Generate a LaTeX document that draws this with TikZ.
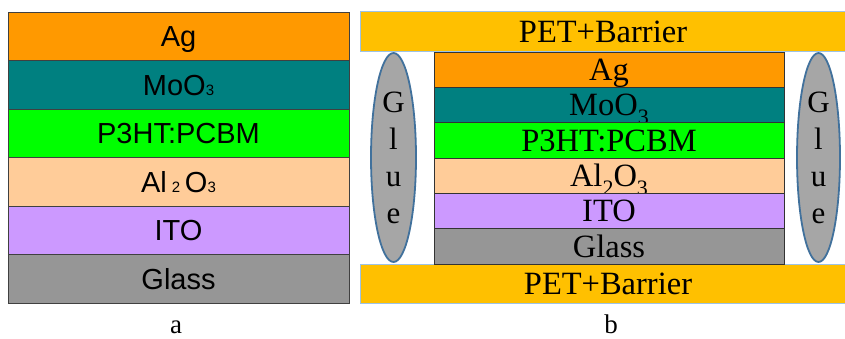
\documentclass[tikz,border=0pt]{standalone}
\usepackage{fontspec}
\setmainfont{Liberation Serif}
\newfontfamily\arialf{Liberation Sans}
\usetikzlibrary{shapes.geometric}
\definecolor{agc}{HTML}{FF9900}
\definecolor{moc}{HTML}{008080}
\definecolor{p3c}{HTML}{00FF00}
\definecolor{alc}{HTML}{FFCC99}
\definecolor{itoc}{HTML}{CC99FF}
\definecolor{glc}{HTML}{969696}
\definecolor{petc}{HTML}{FFC000}
\definecolor{petedge}{HTML}{9DC3E6}
\definecolor{gluefill}{HTML}{A6A6A6}
\definecolor{glueedge}{HTML}{41719C}
\newcommand{\subA}[1]{{\fontsize{15}{15}\selectfont #1}}
\newcommand{\subB}[1]{\raisebox{-0.28em}{\fontsize{22}{22}\selectfont #1}}
\begin{document}
\begin{tikzpicture}[x=1pt,y=-1pt,
  layera/.style={draw=black!75, line width=0.8pt, inner sep=0pt,
    minimum width=341pt, minimum height=48.5pt,
    font=\arialf\fontsize{29}{29}\selectfont, text height=20.8pt, text depth=0pt},
  layerb/.style={draw=black!80, line width=0.8pt, inner sep=0pt,
    minimum width=350pt, minimum height=35.33pt,
    font=\fontsize{32.5}{32.5}\selectfont, text height=21.5pt, text depth=0pt},
  bar/.style={draw=petedge, fill=petc, line width=1pt, inner sep=0pt,
    minimum width=486pt, minimum height=40pt,
    font=\fontsize{32.5}{32.5}\selectfont, text height=21.5pt, text depth=0pt},
  glue/.style={ellipse, draw=glueedge, fill=gluefill, line width=1.8pt, inner sep=0pt,
    minimum height=209pt, align=center,
    font=\fontsize{31}{37}\selectfont},
  caption/.style={font=\fontsize{27}{27}\selectfont, inner sep=0pt, anchor=base}
]
\useasboundingbox (0,0) rectangle (845,339);
\fill[white] (0,0) rectangle (845,339);
% panel a
\node[layera, fill=agc]  (a1) at (178.5,36.25)  {Ag};
\node[layera, fill=moc]  (a2) at (178.5,84.75)  {MoO\subA{3}};
\node[layera, fill=p3c]  (a3) at (178.5,133.25) {P3HT:PCBM};
\node[layera, fill=alc]  (a4) at (178.5,181.75) {Al\,\subA{2}\,O\subA{3}};
\node[layera, fill=itoc] (a5) at (178.5,230.25) {ITO};
\node[layera, fill=glc]  (a6) at (178.5,278.75) {Glass};
\node[caption] (la) at (176,333) {a};
% panel b
\node[bar, minimum height=40pt] (pt) at (603,32) {PET+Barrier};
\node[bar, minimum height=39pt] (pb) at (603,283.5) {\hspace{10pt}PET+Barrier};
\node[layerb, fill=agc]  (b1) at (609,69.67)  {Ag};
\node[layerb, fill=moc]  (b2) at (609,105)    {MoO\subB{3}};
\node[layerb, fill=p3c]  (b3) at (609,140.33) {P3HT:PCBM};
\node[layerb, fill=alc]  (b4) at (609,175.67) {Al\subB{2}O\subB{3}};
\node[layerb, fill=itoc] (b5) at (609,211)    {ITO};
\node[layerb, fill=glc]  (b6) at (609,246.33) {Glass};
\node[glue, minimum width=45pt] (gl) at (393.5,157.5) {G\\l\\u\\e};
\node[glue, minimum width=43pt] (gr) at (818.5,157.5) {G\\l\\u\\e};
\node[caption] (lb) at (611,333) {b};
\end{tikzpicture}
\end{document}
